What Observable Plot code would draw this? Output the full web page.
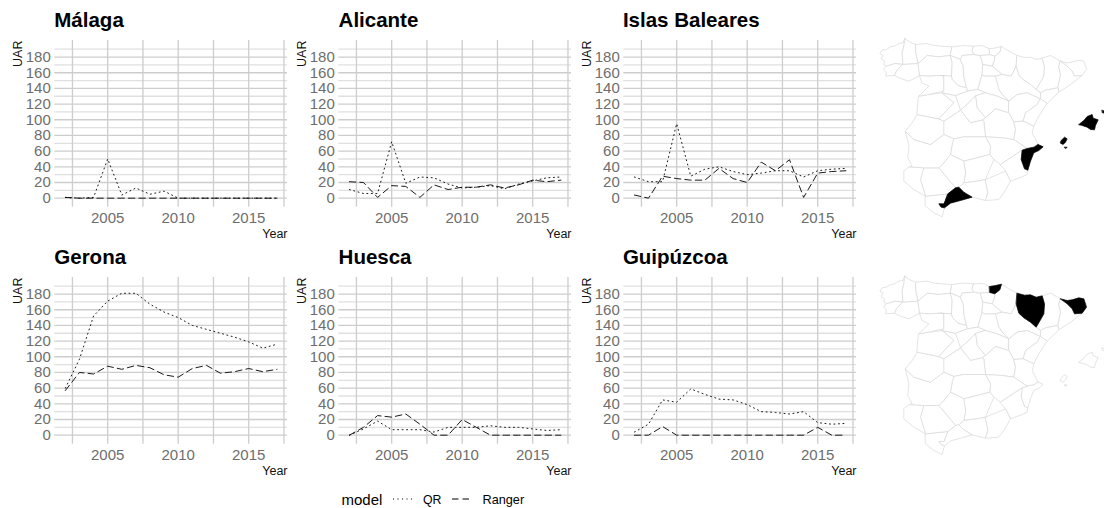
<!DOCTYPE html>
<html><head><meta charset="utf-8">
<script src="https://cdn.jsdelivr.net/npm/d3@7"></script>
<script src="https://cdn.jsdelivr.net/npm/@observablehq/plot@0.6"></script>
<style>
html,body{margin:0;padding:0;background:#fff}
#root{position:relative;width:1104px;height:508px;overflow:hidden;font-family:"Liberation Sans",Arial,sans-serif}
#root svg{position:absolute;max-width:none!important}
.ttl{position:absolute;font-weight:bold;font-size:20.5px;color:#000;line-height:24px}
.lg{position:absolute;color:#000;line-height:16px;white-space:nowrap}
</style></head><body><div id="root"></div>
<script>
const years=[2002,2003,2004,2005,2006,2007,2008,2009,2010,2011,2012,2013,2014,2015,2016,2017];
const panelNames=["Málaga","Alicante","Islas Baleares","Gerona","Huesca","Guipúzcoa"];
const malagaQR=[1,0,1,50,4,13,5,9,0,0,0,0,0,0,0,0];
const malagaRanger=[1,0,0,0,0,0,0,0,0,0,0,0,0,0,0,0];
const alicanteQR=[11,6,6,72,19,27,26,18,13,14,16,12,18,22,26,27];
const alicanteRanger=[21,20,1,16,15,1,17,11,14,14,17,13,17,23,21,23];
const balearesQR=[27,21,21,95,28,37,40,34,30,32,35,35,27,35,37,38];
const balearesRanger=[4,0,28,25,23,23,38,25,20,46,35,49,1,32,34,35];
const geronaQR=[60,97,152,171,181,181,167,157,150,140,135,130,125,119,111,116];
const geronaRanger=[57,80,78,88,84,89,86,77,74,85,89,79,81,85,81,84];
const huescaQR=[0,8,18,7,7,7,4,10,10,10,12,10,10,8,6,7];
const huescaRanger=[0,10,25,23,27,14,0,0,20,10,0,0,0,0,0,0];
const guipuzcoaQR=[4,14,45,42,59,52,46,45,39,30,29,27,30,16,14,15];
const guipuzcoaRanger=[0,0,11,0,0,0,0,0,0,0,0,0,0,10,0,0];
const qrSeries=[malagaQR,alicanteQR,balearesQR,geronaQR,huescaQR,guipuzcoaQR];
const rangerSeries=[malagaRanger,alicanteRanger,balearesRanger,geronaRanger,huescaRanger,guipuzcoaRanger];
const yMajor=[0,20,40,60,80,100,120,140,160,180];
const yMinor=[10,30,50,70,90,110,130,150,170,190];
const xMajor=[2005,2010,2015];
const xMinor=[2002.5,2007.5,2012.5,2017.5];

// Province outlines in map units
const provinces={
"A Coruña":[[103,17],[97,30],[85,32],[72,40],[60,42],[48,50],[35,52],[28,62],[38,68],[32,78],[42,85],[40,95],[48,100],[74,92],[97,95],[95,60],[100,40]],
"Lugo":[[103,17],[118,28],[136,35],[136,60],[143,92],[97,95],[95,60],[100,40]],
"Pontevedra":[[48,100],[74,92],[97,95],[78,115],[72,128],[45,130],[48,118],[40,110]],
"Ourense":[[97,95],[143,92],[148,128],[115,145],[85,135],[72,128],[78,115]],
"Asturias":[[136,35],[170,32],[190,38],[215,40],[245,42],[240,68],[205,72],[170,68],[143,92],[136,60]],
"León":[[143,92],[170,68],[205,72],[240,68],[245,90],[243,130],[210,128],[175,130],[148,128]],
"Cantabria":[[245,42],[280,38],[310,40],[305,55],[310,65],[275,68],[270,80],[240,68]],
"Palencia":[[240,68],[270,80],[278,100],[280,130],[288,165],[262,158],[245,140],[243,130],[245,90]],
"Burgos":[[270,80],[275,68],[310,65],[330,68],[338,95],[335,125],[322,170],[290,175],[288,165],[280,130],[278,100]],
"Vizcaya":[[310,40],[335,38],[357,48],[358,66],[330,68],[310,65],[305,55]],
"Guipúzcoa":[[357,48],[375,45],[393,41],[388,58],[373,70],[358,66]],
"Álava":[[330,68],[358,66],[373,70],[372,82],[365,100],[338,95]],
"Navarra":[[393,41],[415,55],[440,68],[437,100],[422,130],[395,125],[365,100],[372,82],[373,70],[388,58]],
"La Rioja":[[338,95],[365,100],[395,125],[375,130],[340,130],[335,125]],
"Huesca":[[440,68],[462,74],[480,73],[497,80],[515,76],[522,100],[520,130],[510,148],[497,170],[480,155],[460,142],[445,128],[437,100]],
"Lleida":[[515,76],[540,68],[570,85],[565,102],[570,125],[562,165],[525,172],[510,180],[497,170],[510,148],[520,130],[522,100]],
"Gerona":[[570,85],[590,90],[605,88],[625,82],[640,85],[645,100],[648,110],[635,128],[612,130],[605,115],[590,100]],
"Barcelona":[[570,85],[590,100],[605,115],[612,130],[635,128],[600,155],[565,178],[562,165],[570,125],[565,102]],
"Tarragona":[[510,180],[525,172],[562,165],[565,178],[530,212],[510,198]],
"Zaragoza":[[375,130],[395,125],[422,130],[437,100],[445,128],[460,142],[480,155],[497,170],[510,180],[510,198],[470,180],[440,185],[415,205],[395,185],[385,170]],
"Soria":[[340,130],[375,130],[385,170],[395,185],[415,205],[380,190],[345,180],[322,170],[335,125]],
"Segovia":[[255,188],[290,175],[322,170],[345,180],[315,190],[295,210],[270,232]],
"Guadalajara":[[345,180],[380,190],[415,205],[415,240],[375,228],[345,255],[320,225],[315,190]],
"Madrid":[[315,190],[320,225],[345,255],[335,262],[300,270],[270,232],[295,210]],
"Teruel":[[415,205],[440,185],[470,180],[510,198],[500,215],[465,240],[458,265],[430,268],[415,240]],
"Castellón":[[510,198],[530,212],[505,250],[490,280],[458,265],[465,240],[500,215]],
"Cuenca":[[345,255],[375,228],[415,240],[430,268],[435,290],[430,320],[395,315],[345,312],[340,265],[335,262]],
"Valencia":[[458,265],[490,280],[485,300],[503,335],[490,343],[470,347],[430,320],[435,290],[430,268]],
"Alicante":[[503,335],[518,342],[505,353],[490,360],[480,385],[472,412],[462,408],[452,380],[455,352],[470,347],[490,343]],
"Albacete":[[345,312],[395,315],[430,320],[470,347],[455,352],[390,395],[370,380],[358,365],[360,340]],
"Murcia":[[390,395],[455,352],[452,380],[462,408],[472,412],[470,425],[455,432],[420,445],[405,415]],
"Toledo":[[220,265],[270,232],[300,270],[335,262],[340,265],[345,312],[280,312],[250,318],[220,305]],
"Ciudad Real":[[250,318],[280,312],[345,312],[360,340],[358,365],[280,385],[240,365],[245,335]],
"Jaén":[[280,385],[358,365],[370,380],[345,440],[320,445],[280,450],[285,420]],
"Granada":[[280,450],[320,445],[345,440],[352,480],[345,503],[305,493],[280,478],[265,463]],
"Almería":[[345,440],[405,415],[420,445],[400,480],[385,500],[345,503],[352,480]],
"Córdoba":[[240,365],[280,385],[285,420],[280,450],[265,463],[255,465],[205,405],[220,390]],
"Málaga":[[232,483],[255,465],[265,463],[280,478],[305,493],[270,503],[240,511],[222,525],[212,523],[205,513],[220,513]],
"Cádiz":[[165,490],[232,483],[220,513],[205,513],[212,523],[222,525],[215,552],[190,540],[165,520]],
"Sevilla":[[160,405],[205,405],[255,465],[232,483],[165,490],[150,440]],
"Huelva":[[118,402],[160,405],[150,440],[165,490],[130,470],[100,445],[100,415]],
"Badajoz":[[105,295],[125,315],[130,320],[180,335],[220,305],[250,318],[245,335],[240,365],[220,390],[205,405],[160,405],[118,402],[125,400],[112,375],[115,340]],
"Cáceres":[[105,295],[125,270],[140,245],[205,258],[220,265],[220,305],[180,335],[130,320],[125,315]],
"Salamanca":[[145,190],[175,185],[215,180],[250,210],[205,258],[140,245]],
"Ávila":[[215,180],[255,188],[270,232],[220,265],[205,258],[250,210]],
"Zamora":[[148,128],[175,130],[210,128],[220,130],[220,175],[175,185],[145,190],[150,185],[175,160],[155,150]],
"Valladolid":[[210,128],[243,130],[245,140],[262,158],[288,165],[290,175],[255,188],[215,180],[220,175],[220,130]],
"Mallorca":[[625,275],[640,263],[650,251],[665,245],[668,256],[683,261],[675,278],[672,291],[660,290],[650,283],[635,278]],
"Menorca":[[695,232],[702,235],[702,241],[696,240]],
"Ibiza":[[572,323],[582,313],[590,318],[585,328],[578,335],[570,331]],
"Formentera":[[582,343],[590,343],[586,347]]
};
const highlightTop=["Málaga","Alicante","Mallorca","Menorca","Ibiza","Formentera"];
const highlightBottom=["Gerona","Huesca","Guipúzcoa"];

const root=document.getElementById("root");
const FONT='"Liberation Sans",Arial,sans-serif';
const GRID="#cdcdcd", GRIDMINOR="#e0e0e0", TICK="#6e6e6e";

function panel(i){
  const col=i%3,row=Math.floor(i/3);
  const qr=qrSeries[i],rg=rangerSeries[i];
  const p=Plot.plot({
    width:290,height:238,marginLeft:54.3,marginRight:3,marginTop:40,marginBottom:31.3,
    style:{fontFamily:FONT,background:"transparent",overflow:"visible"},
    x:{domain:[2001.25,2017.75]},
    y:{domain:[-11.5,201.1]},
    marks:[
      Plot.ruleY(yMinor,{stroke:GRIDMINOR,strokeWidth:1.3,strokeOpacity:1}),
      Plot.ruleY(yMajor,{stroke:GRID,strokeWidth:1.3,strokeOpacity:1}),
      Plot.ruleX(xMinor,{stroke:GRID,strokeWidth:1.3,strokeOpacity:1}),
      Plot.ruleX(xMajor,{stroke:GRID,strokeWidth:1.3,strokeOpacity:1}),
      Plot.axisX({ticks:xMajor,tickFormat:d=>String(d),tickSize:0,tickPadding:5,fontSize:15,fill:TICK,label:null,anchor:"bottom"}),
      Plot.axisY({ticks:yMajor,tickSize:0,tickPadding:4,fontSize:15,fill:TICK,label:null,anchor:"left"}),
      Plot.text(["Year"],{frameAnchor:"bottom-right",textAnchor:"end",lineAnchor:"middle",dy:26.5,fontSize:12.5,fill:"#111"}),
      Plot.text(["UAR"],{frameAnchor:"top-left",textAnchor:"end",rotate:-90,dx:-37,fontSize:12.5,fill:"#111",lineAnchor:"middle"}),
      Plot.line(years,{x:d=>d,y:(d,j)=>qr[j],stroke:"#000",strokeWidth:0.9,strokeDasharray:"1 3.5"}),
      Plot.line(years,{x:d=>d,y:(d,j)=>rg[j],stroke:"#000",strokeWidth:0.9,strokeDasharray:"6.5 4"})
    ]
  });
  p.style.left=(284.3*col)+"px";p.style.top=(237.3*row)+"px";
  root.appendChild(p);
  const t=document.createElement("div");t.className="ttl";t.textContent=panelNames[i];
  t.style.left=(54.3+284.3*col)+"px";t.style.top=(8+237.3*row)+"px";
  root.appendChild(t);
}
panelNames.forEach((_,i)=>panel(i));

function map(highlight,offY,top){
  const feats=Object.entries(provinces).map(([name,ring])=>({type:"Feature",properties:{name},geometry:{type:"Polygon",coordinates:[ring.concat([ring[0]])]}}));
  const isOn=d=>highlight.includes(d.properties.name);
  const proj=d3.geoTransform({point(x,y){this.stream.point(x/3,(y+offY)/3);}});
  const p=Plot.plot({
    width:234,height:190,margin:0,
    style:{background:"transparent",overflow:"visible"},
    projection:proj,
    marks:[
      Plot.geo(feats.filter(d=>!isOn(d)),{fill:"#fff",stroke:"#d8d8d8",strokeWidth:0.7}),
      Plot.geo(feats.filter(isOn),{fill:"#000",stroke:"#000",strokeWidth:0.7})
    ]
  });
  p.style.left="870px";p.style.top=top+"px";
  root.appendChild(p);
}
map(highlightTop,7,30);
map(highlightBottom,0,270);

// legend
function lgText(s,x,size){const d=document.createElement("div");d.className="lg";d.textContent=s;d.style.left=x+"px";d.style.top="492px";d.style.fontSize=size+"px";root.appendChild(d);}
lgText("model",341.5,15);lgText("QR",423,12.3);lgText("Ranger",482.5,12.7);
const ns="http://www.w3.org/2000/svg";
const ks=document.createElementNS(ns,"svg");ks.setAttribute("width","100");ks.setAttribute("height","12");
ks.style.left="390px";ks.style.top="493px";
[[3,22,"1 3.5"],[62,80,"6.5 4"]].forEach(([a,b,da])=>{const l=document.createElementNS(ns,"line");l.setAttribute("x1",a);l.setAttribute("x2",b);l.setAttribute("y1",6);l.setAttribute("y2",6);l.setAttribute("stroke","#000");l.setAttribute("stroke-dasharray",da);ks.appendChild(l);});
root.appendChild(ks);
</script></body></html>
